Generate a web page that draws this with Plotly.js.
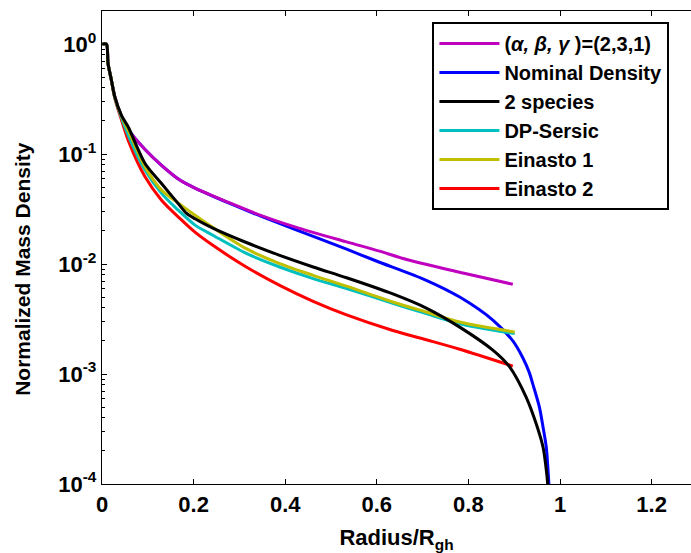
<!DOCTYPE html>
<html><head><meta charset="utf-8">
<script src="https://cdn.plot.ly/plotly-3.0.1.min.js"></script>
<style>html,body{margin:0;padding:0;background:#fff;}#chart{width:691px;height:553px;}</style>
</head><body><div id="chart"></div>
<script>
// ---- data ----
const names = ["(<i>α, β, γ</i> )=(2,3,1)", "Nominal Density", "2 species", "DP-Sersic", "Einasto 1", "Einasto 2"];

const xABG = [0.001,0.0096,0.0131,0.0205,0.0277,0.0424,0.057,0.094,0.130,0.170,0.203,0.275,0.348,0.421,0.534,0.606,0.665,0.788,0.897];
const yABG = [1,1,0.67,0.472,0.335,0.222,0.168,0.110,0.079,0.058,0.049,0.0365,0.0276,0.0218,0.0159,0.0131,0.0110,0.0083,0.00655];

const xNom = [0.001,0.0096,0.0131,0.0205,0.0277,0.0424,0.057,0.094,0.130,0.170,0.203,0.275,0.348,0.421,0.534,0.599,0.708,0.781,0.854,0.897,0.919,0.933,0.941,0.955,0.963,0.970,0.977];
const yNom = [1,1,0.67,0.472,0.335,0.222,0.168,0.110,0.079,0.058,0.049,0.0361,0.0271,0.0207,0.01365,0.01066,0.00712,0.00501,0.00308,0.00200,0.00140,0.00103,0.00080,0.00050,0.000328,0.000216,0.00008];

const x2sp = [0.001,0.0096,0.0131,0.0205,0.0277,0.0424,0.057,0.094,0.130,0.166,0.184,0.203,0.242,0.315,0.388,0.461,0.534,0.635,0.708,0.781,0.854,0.890,0.926,0.948,0.963,0.971,0.975];
const y2sp = [1,1,0.67,0.472,0.335,0.225,0.177,0.0822,0.054,0.0356,0.0290,0.0258,0.0212,0.0157,0.0120,0.00941,0.0075,0.00535,0.00398,0.00267,0.00164,0.00116,0.000616,0.000353,0.000216,0.000124,0.00008];

const xDPS = [0.001,0.0096,0.0131,0.0205,0.0277,0.0424,0.057,0.094,0.130,0.166,0.203,0.242,0.315,0.388,0.461,0.534,0.635,0.708,0.781,0.901];
const yDPS = [1,1,0.67,0.47,0.33,0.215,0.149,0.0715,0.0439,0.031,0.0226,0.0183,0.0125,0.0094,0.00738,0.0060,0.0044,0.00354,0.00287,0.00233];

const xEin1 = [0.001,0.0096,0.0131,0.0205,0.0277,0.0424,0.057,0.094,0.130,0.166,0.203,0.242,0.315,0.388,0.461,0.534,0.635,0.708,0.781,0.901];
const yEin1 = [1,1,0.67,0.472,0.333,0.222,0.1655,0.0766,0.047,0.036,0.0278,0.0215,0.0138,0.0101,0.0079,0.0063,0.00452,0.00366,0.00297,0.00241];

const xEin2 = [0.001,0.0096,0.0131,0.0205,0.0277,0.0424,0.057,0.094,0.130,0.170,0.203,0.242,0.315,0.388,0.461,0.534,0.635,0.708,0.781,0.897];
const yEin2 = [1,1,0.67,0.465,0.325,0.205,0.134,0.0621,0.0381,0.026,0.0195,0.0148,0.0094,0.0064,0.00458,0.00345,0.00249,0.00205,0.00168,0.00118];

const xTickVals = [0,0.2,0.4,0.6,0.8,1,1.2];
const xTickText = ["0","0.2","0.4","0.6","0.8","1","1.2"];
const yTickVals = [1e-4,1e-3,1e-2,1e-1,1];
const yTickText = ["10<sup>-4</sup>","10<sup>-3</sup>","10<sup>-2</sup>","10<sup>-1</sup>","10<sup>0</sup>"];
const xTitle = "Radius/R<sub>gh</sub>";
const yTitle = "Normalized Mass Density";

// ---- chart ----
const colors = ["#bf00bf","#0000ff","#000000","#00bfbf","#bfbf00","#ff0000"];
const xs = [xABG,xNom,x2sp,xDPS,xEin1,xEin2];
const ys = [yABG,yNom,y2sp,yDPS,yEin1,yEin2];
const drawOrder = [1,0,5,3,4,2];

const minorVals = [];
for (let e = -4; e <= 0; e++) for (let m = 2; m <= 9; m++) minorVals.push(m * Math.pow(10, e));

const F = "Liberation Sans, Arial, sans-serif";
const traces = drawOrder.map(i => ({
  type: "scatter", mode: "lines", x: xs[i], y: ys[i], name: names[i],
  legendrank: i + 1, legendgroup: "g" + i,
  line: {color: colors[i], width: 3, shape: "spline", smoothing: 0.8}
}));

const axisCommon = {
  showline: true, linecolor: "#000", linewidth: 1.2, ticks: "inside", ticklen: 5,
  tickcolor: "#000", showgrid: false, zeroline: false,
  tickfont: {family: F, size: 22, color: "#000", weight: "bold"}
};

const layout = {
  width: 691, height: 553,
  margin: {l: 102, r: 0, t: 11, b: 69},
  paper_bgcolor: "#fff", plot_bgcolor: "#fff",
  showlegend: true,
  legend: {
    x: 0.561, y: 0.977, xanchor: "left", yanchor: "top",
    bgcolor: "#fff", bordercolor: "#000", borderwidth: 2,
    font: {family: F, size: 20, color: "#000", weight: "bold"},
    traceorder: "normal", itemwidth: 60
  },
  xaxis: Object.assign({}, axisCommon, {
    range: [0, 1.286], tickmode: "array", tickvals: xTickVals, ticktext: xTickText,
    mirror: "ticks",
    title: {text: xTitle, font: {family: F, size: 22, color: "#000", weight: "bold"}, standoff: 14}
  }),
  yaxis: Object.assign({}, axisCommon, {
    type: "log", range: [-4, Math.log10(2)], tickmode: "array", tickvals: yTickVals, ticktext: yTickText,
    mirror: false,
    minor: {tickmode: "array", tickvals: minorVals, ticks: "inside", ticklen: 3, tickcolor: "#000", showgrid: false}
  }),
  yaxis2: {
    overlaying: "y", side: "right", type: "log", range: [-4, Math.log10(2)],
    tickmode: "array", tickvals: yTickVals, showticklabels: false, ticks: "inside", ticklen: 5,
    tickcolor: "#000", showline: false, showgrid: false, zeroline: false
  },
  annotations: [{
    text: yTitle, xref: "paper", yref: "paper", x: -0.134, y: 0.455,
    xanchor: "center", yanchor: "middle", textangle: -90, showarrow: false,
    font: {family: F, size: 21, color: "#000", weight: "bold"}
  }]
};

Plotly.newPlot("chart", traces, layout, {displayModeBar: false, staticPlot: true});
</script></body></html>
